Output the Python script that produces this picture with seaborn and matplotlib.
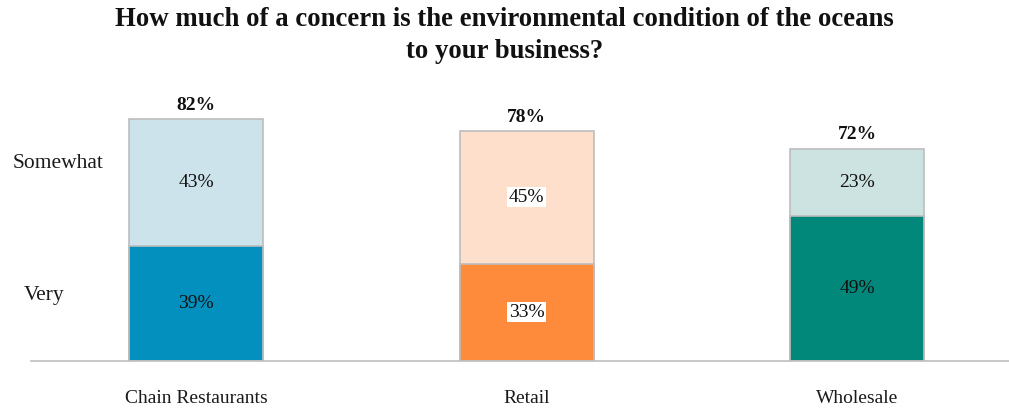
import matplotlib
matplotlib.use("Agg")
import matplotlib.pyplot as plt
import seaborn as sns
import pandas as pd

categories = ["Chain Restaurants", "Retail", "Wholesale"]
very = [39, 33, 49]
somewhat = [43, 45, 23]
totals = [82, 78, 72]
very_colors = ["#0490BE", "#FE8B3B", "#02887A"]
somewhat_colors = ["#CCE3EC", "#FDDFCB", "#CDE3E1"]

sns.set_theme(style="white")
SERIF = ['Liberation Serif', 'DejaVu Serif']
plt.rcParams['font.family'] = SERIF

fig = plt.figure(figsize=(10.09, 4.11), dpi=100)
ax = fig.add_axes([31/1009, 50/411, 978/1009, 261/411])

df = pd.DataFrame({"cat": categories, "very": very, "total": totals})
sns.barplot(data=df, x="cat", y="total", hue="cat", palette=somewhat_colors,
            legend=False, width=0.406, edgecolor="#BDBDBD", linewidth=1.2, ax=ax,
            saturation=1)
sns.barplot(data=df, x="cat", y="very", hue="cat", palette=very_colors,
            legend=False, width=0.406, edgecolor="#BDBDBD", linewidth=1.2, ax=ax,
            saturation=1)

ax.set_xlim(-0.5, 2.46)
ax.set_ylim(0, 88.5)
for s in ["top", "right", "left"]:
    ax.spines[s].set_visible(False)
ax.spines["bottom"].set_color("#BFBFBF")
ax.spines["bottom"].set_linewidth(1.2)
ax.set_yticks([])
ax.set_xlabel("")
ax.set_ylabel("")
ax.tick_params(axis="x", length=0, pad=27)
ax.set_xticks(range(len(categories)))
ax.set_xticklabels(categories, fontfamily=SERIF, fontsize=14, color="#1a1a1a",
                   va="center")

for i in range(len(categories)):
    box = dict(facecolor="white", edgecolor="none", pad=1) if i == 1 else None
    ax.text(i, very[i] / 2, f"{very[i]}%", ha="center", va="center",
            fontsize=14, color="#111111", bbox=box)
    ax.text(i, very[i] + somewhat[i] / 2, f"{somewhat[i]}%", ha="center",
            va="center", fontsize=14, color="#111111", bbox=box)
    ax.text(i, totals[i] + 1.8, f"{totals[i]}%", ha="center", va="bottom",
            fontsize=14, fontweight="bold", color="#111111")

fig.text(0.5, 1 - 20/411, "How much of a concern is the environmental condition of the oceans",
         ha="center", va="center", fontsize=19.3, fontweight="bold", color="#111111")
fig.text(0.5, 1 - 51/411, "to your business?",
         ha="center", va="center", fontsize=19.3, fontweight="bold", color="#111111")

fig.text(58/1009, 1 - 163/411, "Somewhat", ha="center", va="center",
         fontsize=15.5, color="#1a1a1a")
fig.text(44/1009, 1 - 295/411, "Very", ha="center", va="center",
         fontsize=15.5, color="#1a1a1a")

fig.savefig("out.png", dpi=100)
